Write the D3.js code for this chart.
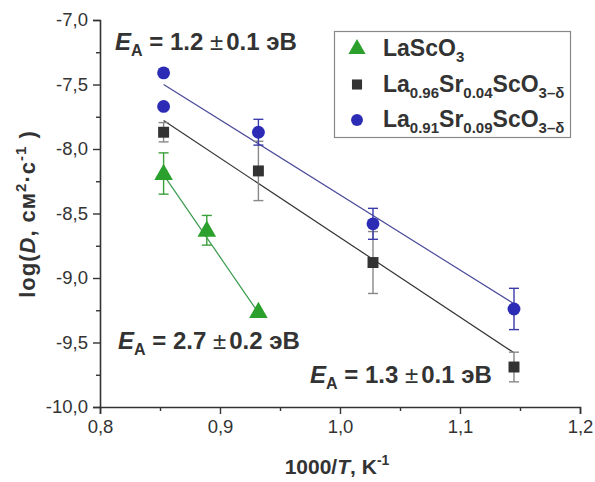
<!DOCTYPE html>
<html><head><meta charset="utf-8">
<script src="https://cdn.jsdelivr.net/npm/d3@7/dist/d3.min.js"></script>
<style>body{margin:0;background:#fff}svg{display:block}text{font-family:"Liberation Sans",Arial,sans-serif}</style>
</head><body><div id="chart"></div>
<script>
// ---- data ----
const lascoX = [0.853, 0.889, 0.932];
const lascoY = [-8.19, -8.63, -9.26];
const lascoErr = [0.16, 0.115, 0];
const sr04X = [0.853, 0.932, 1.0275, 1.145];
const sr04Y = [-7.87, -8.17, -8.88, -9.69];
const sr04Err = [0.075, 0.23, 0.24, 0.115];
const sr09X = [0.853, 0.853, 0.932, 1.0275, 1.145];
const sr09Y = [-7.41, -7.67, -7.87, -8.58, -9.24];
const sr09Err = [0, 0, 0.1, 0.12, 0.16];
const fitLasco = [[0.853, -8.20], [0.932, -9.27]];
const fitSr04 = [[0.853, -7.78], [1.145, -9.58]];
const fitSr09 = [[0.853, -7.50], [1.145, -9.20]];
const xTicks = [0.8, 0.9, 1.0, 1.1, 1.2];
const yTicks = [-7.0, -7.5, -8.0, -8.5, -9.0, -9.5, -10.0];

const W = 595, H = 482;
const svg = d3.select("#chart").append("svg").attr("width", W).attr("height", H);
const x = d3.scaleLinear().domain([0.8, 1.2]).range([100, 580]);
const y = d3.scaleLinear().domain([-10, -7]).range([407, 20]);
const fmt = d => d.toFixed(1).replace(".", ",");

// axes
const axCol = "#333";
const gx = svg.append("g").attr("transform", `translate(0,${y(-10)})`)
  .call(d3.axisBottom(x).tickValues(xTicks).tickFormat(fmt).tickSize(7).tickPadding(6));
const gxm = svg.append("g").attr("transform", `translate(0,${y(-10)})`)
  .call(d3.axisBottom(x).tickValues([0.85, 0.95, 1.05, 1.15]).tickFormat("").tickSize(4));
const gy = svg.append("g").attr("transform", `translate(${x(0.8)},0)`)
  .call(d3.axisLeft(y).tickValues(yTicks).tickFormat(fmt).tickSize(7).tickPadding(5));
const gym = svg.append("g").attr("transform", `translate(${x(0.8)},0)`)
  .call(d3.axisLeft(y).tickValues([-7.25, -7.75, -8.25, -8.75, -9.25, -9.75]).tickFormat("").tickSize(4));
[gx, gxm, gy, gym].forEach(g => {
  g.select(".domain").attr("stroke", axCol).attr("stroke-width", 1.6);
  g.selectAll(".tick line").attr("stroke", axCol).attr("stroke-width", 1.4);
  g.selectAll(".tick text").attr("fill", "#333").attr("font-size", 18.5);
});
gxm.select(".domain").remove(); gym.select(".domain").remove();

// axis titles
const xt = svg.append("text").attr("x", 337).attr("y", 474).attr("text-anchor", "middle")
  .attr("font-size", 21).attr("font-weight", "bold").attr("fill", "#333");
xt.append("tspan").text("1000/");
xt.append("tspan").attr("font-style", "italic").text("T");
xt.append("tspan").text(", K");
xt.append("tspan").attr("font-size", 14).attr("dy", -9).text("-1");

const yt = svg.append("text").attr("transform", `translate(35,214) rotate(-90)`).attr("text-anchor", "middle")
  .attr("font-size", 22).attr("font-weight", "bold").attr("fill", "#333").attr("letter-spacing", 1);
yt.append("tspan").text("log(");
yt.append("tspan").attr("font-style", "italic").text("D");
yt.append("tspan").text(", см");
yt.append("tspan").attr("font-size", 15).attr("dy", -9).text("2");
yt.append("tspan").attr("dy", 9).text("·с");
yt.append("tspan").attr("font-size", 15).attr("dy", -9).text("-1");
yt.append("tspan").attr("dy", 9).text(" )");

// series
const series = [
  {X: lascoX, Y: lascoY, E: lascoErr, fit: fitLasco, color: "#2ca02c", line: "#3a9a4e", err: "#3aa03a", shape: d3.symbolTriangle, size: 150},
  {X: sr04X, Y: sr04Y, E: sr04Err, fit: fitSr04, color: "#333333", line: "#333", err: "#888", shape: d3.symbolSquare, size: 120},
  {X: sr09X, Y: sr09Y, E: sr09Err, fit: fitSr09, color: "#2b2bb5", line: "#4a4a9a", err: "#3a3aaa", shape: d3.symbolCircle, size: 130}
];
series.forEach(s => {
  svg.append("line").attr("x1", x(s.fit[0][0])).attr("y1", y(s.fit[0][1]))
    .attr("x2", x(s.fit[1][0])).attr("y2", y(s.fit[1][1]))
    .attr("stroke", s.line).attr("stroke-width", 1.2);
});
series.forEach(s => {
  const g = svg.append("g");
  s.X.forEach((xv, i) => {
    const e = s.E[i];
    if (e > 0) {
      const cx = x(xv), y1 = y(s.Y[i] + e), y2 = y(s.Y[i] - e);
      g.append("line").attr("x1", cx).attr("x2", cx).attr("y1", y1).attr("y2", y2).attr("stroke", s.err).attr("stroke-width", 1.4);
      [y1, y2].forEach(yy => g.append("line").attr("x1", cx - 5).attr("x2", cx + 5).attr("y1", yy).attr("y2", yy).attr("stroke", s.err).attr("stroke-width", 1.4));
    }
  });
  s.X.forEach((xv, i) => {
    g.append("path").attr("d", d3.symbol().type(s.shape).size(s.size)())
      .attr("transform", `translate(${x(xv)},${y(s.Y[i]) + (s.shape === d3.symbolTriangle ? 1 : 0)})`)
      .attr("fill", s.color);
  });
});

// legend
const lg = svg.append("g");
lg.append("rect").attr("x", 334.5).attr("y", 31.5).attr("width", 236).attr("height", 106)
  .attr("fill", "#fff").attr("stroke", "#888").attr("stroke-width", 1.2);
const legendItems = [
  {s: series[0], parts: [["LaScO", 0], ["3", 1]]},
  {s: series[1], parts: [["La", 0], ["0.96", 1], ["Sr", 0], ["0.04", 1], ["ScO", 0], ["3–δ", 1]]},
  {s: series[2], parts: [["La", 0], ["0.91", 1], ["Sr", 0], ["0.09", 1], ["ScO", 0], ["3–δ", 1]]}
];
legendItems.forEach((it, i) => {
  const cy = 48 + i * 35.5;
  lg.append("path").attr("d", d3.symbol().type(it.s.shape).size(it.s.size * 0.85)())
    .attr("transform", `translate(357,${cy + 1})`).attr("fill", it.s.color);
  const t = lg.append("text").attr("x", 383).attr("y", cy + 8).attr("font-size", 23)
    .attr("font-weight", "bold").attr("fill", "#333");
  let sub = false;
  it.parts.forEach(([txt, isSub]) => {
    const ts = t.append("tspan").text(txt);
    if (isSub && !sub) { ts.attr("font-size", 15).attr("dy", 6); sub = true; }
    else if (!isSub && sub) { ts.attr("dy", -6); sub = false; }
    else if (isSub) ts.attr("font-size", 15);
  });
});

// annotations
function ea(xp, yp, val) {
  const t = svg.append("text").attr("x", xp).attr("y", yp).attr("font-size", 24)
    .attr("font-weight", "bold").attr("fill", "#333");
  t.append("tspan").attr("font-style", "italic").text("E");
  t.append("tspan").attr("font-size", 16).attr("dy", 6).text("A");
  t.append("tspan").attr("dy", -6).text(" = " + val[0] + " ");
  t.append("tspan").attr("font-weight", "normal").text("±");
  t.append("tspan").attr("dx", 3).text(val[1] + " эВ");
}
ea(115, 50, ["1.2", "0.1"]);
ea(118, 349, ["2.7", "0.2"]);
ea(310, 383, ["1.3", "0.1"]);
</script></body></html>
